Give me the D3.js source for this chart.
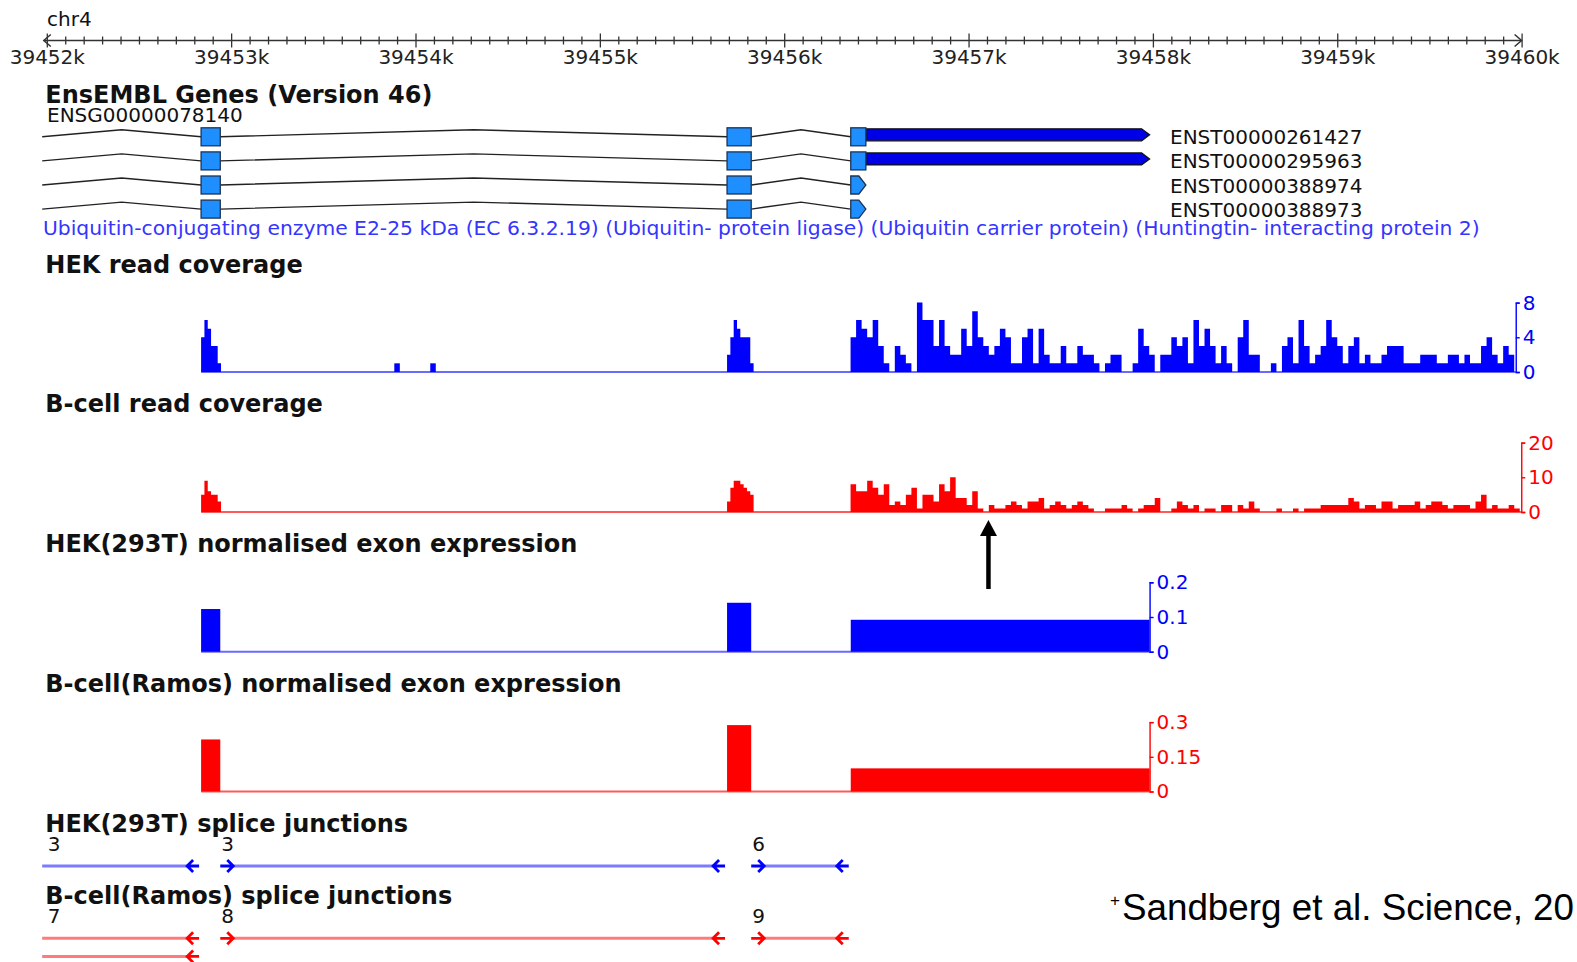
<!DOCTYPE html>
<html>
<head>
<meta charset="utf-8">
<script src="https://cdn.jsdelivr.net/npm/d3@7"></script>
<style>
  body { margin: 0; background: #fff; }
  svg { display: block; font-family: "DejaVu Sans", sans-serif; }
  .title { font-weight: bold; font-size: 24px; fill: #111; }
</style>
</head>
<body>
<svg id="chart" width="1577" height="962"></svg>
<script>
// ---- data ----
const chromName = 'chr4';
const region = [39452000, 39460000];
const majorTicks = d3.range(39452000, 39460001, 1000);
const minorTicks = d3.range(39452100, 39460000, 100).filter(d => d % 1000 !== 0);

const geneId = 'ENSG00000078140';
const geneDesc = 'Ubiquitin-conjugating enzyme E2-25 kDa (EC 6.3.2.19) (Ubiquitin- protein ligase) (Ubiquitin carrier protein) (Huntingtin- interacting protein 2)';
const transcriptIds = ['ENST00000261427', 'ENST00000295963', 'ENST00000388974', 'ENST00000388973'];
const upstreamExonEnd = 39451975;            // previous exon, just off the left edge
const exonStarts = [39452837, 39455690, 39456361];
const exonEnds = [39452941, 39455821, 39456443];
const transcriptEnds = [39457982, 39457982, 39456443, 39456443];

// read coverage, binned
const exonBin = 18;
const hekExon1Cov = [4, 6, 5, 3, 3, 1];
const hekExon2Cov = [2, 4, 6, 5, 4, 4, 4, 1];
const bcellExon1Cov = [5, 9, 6, 5, 5, 3];
const bcellExon2Cov = [3, 7, 9, 9, 8, 7, 6, 5];
const hekIntronReads = [39453885, 39454080];  // single reads, 30bp
const tailStart = 39456360;
const tailBin = 30;
const hekTailCov = [
  4, 6, 5, 4, 6, 3, 1, 0, 3, 2, 1, 0, 8, 6, 6, 3, 6, 3, 2, 2,
  5, 3, 7, 4, 3, 2, 3, 5, 4, 1, 1, 4, 5, 1, 5, 2, 1, 1, 3, 1,
  1, 3, 2, 2, 1, 0, 1, 2, 2, 0, 0, 1, 5, 3, 2, 0, 2, 2, 4, 3,
  4, 1, 6, 3, 5, 3, 1, 3, 1, 0, 4, 6, 2, 2, 0, 0, 1, 0, 3, 4,
  1, 6, 3, 1, 2, 3, 6, 4, 3, 1, 3, 4, 1, 2, 1, 1, 2, 3, 3, 3,
  1, 1, 1, 2, 2, 2, 1, 1, 2, 2, 1, 2, 1, 1, 3, 4, 2, 1, 3, 2
];
const bcellTailCov = [
  8, 6, 6, 9, 7, 5, 8, 2, 3, 2, 5, 7, 1, 5, 5, 3, 8, 6, 10, 4,
  4, 2, 6, 1, 0, 2, 1, 1, 2, 3, 2, 1, 3, 3, 4, 1, 2, 3, 2, 1,
  2, 3, 2, 1, 0, 0, 1, 1, 1, 2, 1, 0, 1, 2, 2, 4, 0, 0, 1, 3,
  2, 1, 2, 0, 1, 1, 0, 2, 2, 0, 2, 1, 3, 1, 0, 0, 0, 1, 0, 0,
  1, 0, 1, 1, 1, 2, 2, 2, 2, 2, 4, 3, 1, 2, 2, 1, 3, 3, 1, 2,
  2, 2, 3, 1, 2, 3, 3, 2, 1, 2, 2, 2, 1, 3, 5, 1, 2, 1, 1, 2, 1
];
const hekCovTicks = [0, 4, 8];
const bcellCovTicks = [0, 10, 20];

// normalised exon expression (exon 3 runs to the transcript end)
const exprStarts = [39452837, 39455690, 39456361];
const exprEnds = [39452941, 39455821, 39457982];
const hekExpr = [0.123, 0.141, 0.092];
const bcellExpr = [0.225, 0.287, 0.1];
const hekExprTicks = [0, 0.1, 0.2];
const bcellExprTicks = [0, 0.15, 0.3];

// splice junctions
const juncStarts = [39451975, 39452941, 39455821, 39451975];
const juncEnds = [39452837, 39455690, 39456361, 39452837];
const hekJuncCounts = [3, 3, 6];
const bcellJuncCounts = [7, 8, 9, null];
const arrowPos = 39457108;

// ---- drawing ----
const svg = d3.select('#chart');
const x = d3.scaleLinear().domain(region).range([46.8, 1521.6]);

// ruler
const rulerY = 40.5;
svg.append('text').attr('x', 47).attr('y', 26).attr('font-size', 20).attr('fill', '#111').text(chromName);
const ruler = svg.append('g').attr('transform', `translate(0,${rulerY})`);
ruler.append('g')
  .call(d3.axisBottom(x).tickValues(minorTicks).tickSize(4).tickFormat(''))
  .call(g => g.select('.domain').remove())
  .call(g => g.selectAll('.tick line').attr('y1', -4).attr('stroke', '#333').attr('stroke-width', 1.3));
ruler.append('g')
  .call(d3.axisBottom(x).tickValues(majorTicks).tickSize(7).tickFormat(d => (d / 1000) + 'k'))
  .call(g => g.select('.domain').remove())
  .call(g => g.selectAll('.tick line').attr('y1', -7).attr('stroke', '#333').attr('stroke-width', 1.3))
  .call(g => g.selectAll('.tick text').attr('y', 9).attr('font-size', 20).attr('font-family', 'DejaVu Sans').attr('fill', '#222'));
const [rx0, rx1] = x.range();
ruler.append('line').attr('x1', rx0 - 3).attr('x2', rx1).attr('stroke', '#333').attr('stroke-width', 1.5);
ruler.append('path').attr('d', `M${rx0 + 4},-6L${rx0 - 3},0L${rx0 + 4},6`).attr('fill', 'none').attr('stroke', '#333').attr('stroke-width', 1.5);
ruler.append('path').attr('d', `M${rx1 - 7},-6L${rx1},0L${rx1 - 7},6`).attr('fill', 'none').attr('stroke', '#333').attr('stroke-width', 1.5);

// titles
const titles = [
  ['EnsEMBL Genes (Version 46)', 102.5],
  ['HEK read coverage', 272.5],
  ['B-cell read coverage', 412],
  ['HEK(293T) normalised exon expression', 552],
  ['B-cell(Ramos) normalised exon expression', 692],
  ['HEK(293T) splice junctions', 831.5],
  ['B-cell(Ramos) splice junctions', 904]
];
svg.selectAll('text.title').data(titles).enter().append('text')
  .attr('class', 'title').attr('x', 45.3).attr('y', d => d[1]).text(d => d[0]);

// gene models
svg.append('text').attr('x', 47).attr('y', 121.5).attr('font-size', 20).attr('fill', '#111').text(geneId);
const row0 = 136.8, rowStep = 24.1;
transcriptIds.forEach((id, i) => {
  const cy = row0 + i * rowStep;
  const g = svg.append('g');
  const introns = [[upstreamExonEnd, exonStarts[0]], [exonEnds[0], exonStarts[1]], [exonEnds[1], exonStarts[2]]];
  g.selectAll('path.intron').data(introns).enter().append('path')
    .attr('d', d => `M${x(d[0])},${cy}L${x((d[0] + d[1]) / 2)},${cy - 7}L${x(d[1])},${cy}`)
    .attr('fill', 'none').attr('stroke', '#222').attr('stroke-width', 1.4);
  const end = transcriptEnds[i];
  if (end > exonEnds[2]) {
    // long 3' block with arrow point
    const x0 = x(exonEnds[2]), x1 = x(end);
    g.append('path')
      .attr('d', `M${x0},${cy - 8}L${x1 - 8},${cy - 8}L${x1},${cy - 2}L${x1 - 8},${cy + 4}L${x0},${cy + 4}Z`)
      .attr('fill', '#0000e6').attr('stroke', '#111').attr('stroke-width', 1.3);
  }
  const boxes = exonStarts.map((s, k) => [s, exonEnds[k]]);
  g.selectAll('rect.exon').data(end > exonEnds[2] ? boxes : boxes.slice(0, 2)).enter().append('rect')
    .attr('x', d => x(d[0])).attr('y', cy - 9)
    .attr('width', d => x(d[1]) - x(d[0])).attr('height', 18)
    .attr('fill', '#1f8fff').attr('stroke', '#1c3452').attr('stroke-width', 1.3);
  if (end <= exonEnds[2]) {
    const x0 = x(exonStarts[2]), x1 = x(end);
    g.append('path')
      .attr('d', `M${x0},${cy - 9}L${x1 - 7},${cy - 9}L${x1},${cy}L${x1 - 7},${cy + 9}L${x0},${cy + 9}Z`)
      .attr('fill', '#1f8fff').attr('stroke', '#1c3452').attr('stroke-width', 1.3);
  }
  g.append('text').attr('x', 1170).attr('y', cy + 7.5).attr('font-size', 20).attr('fill', '#111').text(id);
});
svg.append('text').attr('x', 43).attr('y', 234.5).attr('font-size', 20.3).attr('fill', '#3535ff').text(geneDesc);

// coverage tracks
function coverageBlocks(exon1, exon2, tail) {
  return [
    { start: exonStarts[0], bin: exonBin, values: exon1 },
    { start: exonStarts[1], bin: exonBin, values: exon2 },
    { start: tailStart, bin: tailBin, values: tail }
  ];
}
function coverageTrack(blocks, ticks, baseY, h, color, light) {
  const y = d3.scaleLinear().domain([0, d3.max(ticks)]).range([baseY, baseY - h]);
  const last = blocks[blocks.length - 1];
  const dataEnd = last.start + last.values.length * last.bin;
  const axisX = x(dataEnd) + 1.5;
  const g = svg.append('g');
  g.append('line').attr('x1', x(blocks[0].start)).attr('x2', axisX)
    .attr('y1', baseY).attr('y2', baseY).attr('stroke', light).attr('stroke-width', 2);
  const area = d3.area().curve(d3.curveStepAfter)
    .x(d => x(d.pos)).y0(y(0)).y1(d => y(d.v));
  blocks.forEach(b => {
    const pts = b.values.map((v, i) => ({ pos: b.start + i * b.bin, v }));
    pts.push({ pos: b.start + b.values.length * b.bin, v: 0 });
    g.append('path').datum(pts).attr('d', area).attr('fill', color);
  });
  drawAxis(axisX, y, ticks, color);
}
function drawAxis(ax, y, ticks, color) {
  svg.append('g').attr('transform', `translate(${ax},0)`)
    .call(d3.axisRight(y).tickValues(ticks).tickSize(4).tickPadding(3).tickFormat(d => String(d)))
    .call(g => g.selectAll('path,line').attr('stroke', color).attr('stroke-width', 1.4))
    .call(g => g.selectAll('text').attr('fill', color).attr('font-size', 20).attr('font-family', 'DejaVu Sans'));
}

const hekBlocks = coverageBlocks(hekExon1Cov, hekExon2Cov, hekTailCov)
  .concat(hekIntronReads.map(s => ({ start: s, bin: 30, values: [1] })));
// keep the tail block last so the axis sits at its end
hekBlocks.push(hekBlocks.splice(2, 1)[0]);
coverageTrack(hekBlocks, hekCovTicks, 372, 69.4, '#0000ff', '#6a6aff');
coverageTrack(coverageBlocks(bcellExon1Cov, bcellExon2Cov, bcellTailCov), bcellCovTicks, 512, 69.4, '#ff0000', '#ff5a5a');

// exon expression tracks
function exprTrack(values, ticks, baseY, h, color, light) {
  const y = d3.scaleLinear().domain([0, d3.max(ticks)]).range([baseY, baseY - h]);
  const g = svg.append('g');
  const xEnd = x(d3.max(exprEnds));
  g.append('line').attr('x1', x(exprStarts[0])).attr('x2', xEnd)
    .attr('y1', baseY).attr('y2', baseY).attr('stroke', light).attr('stroke-width', 2);
  g.selectAll('rect').data(values).enter().append('rect')
    .attr('x', (d, i) => x(exprStarts[i]))
    .attr('width', (d, i) => x(exprEnds[i]) - x(exprStarts[i]))
    .attr('y', d => y(d)).attr('height', d => baseY - y(d))
    .attr('fill', color);
  drawAxis(xEnd, y, ticks, color);
}
exprTrack(hekExpr, hekExprTicks, 651.7, 69.4, '#0000ff', '#6a6aff');
exprTrack(bcellExpr, bcellExprTicks, 791.5, 69.4, '#ff0000', '#ff5a5a');

// splice junctions
function junctionTrack(counts, lineY, light, dark) {
  const g = svg.append('g');
  counts.forEach((n, j) => {
    const row = j === 3 ? 1 : 0;
    const yy = lineY + row * 18.1;
    const a = x(juncStarts[j]), b = x(juncEnds[j]);
    const startVisible = juncStarts[j] >= region[0];
    g.append('line').attr('x1', startVisible ? a + 13 : a).attr('x2', b - 14)
      .attr('y1', yy).attr('y2', yy).attr('stroke', light).attr('stroke-width', 3);
    g.append('path')
      .attr('d', `M${b - 14},${yy}L${b - 2},${yy}M${b - 8},${yy - 6}L${b - 14},${yy}L${b - 8},${yy + 6}`)
      .attr('fill', 'none').attr('stroke', dark).attr('stroke-width', 2.8);
    if (startVisible) {
      g.append('path')
        .attr('d', `M${a},${yy}L${a + 13},${yy}M${a + 7},${yy - 6}L${a + 13},${yy}L${a + 7},${yy + 6}`)
        .attr('fill', 'none').attr('stroke', dark).attr('stroke-width', 2.8);
    }
    if (n != null) {
      g.append('text').attr('x', x(Math.max(juncStarts[j], region[0])) + 1).attr('y', yy - 15)
        .attr('font-size', 20).attr('fill', '#111').text(n);
    }
  });
}
junctionTrack(hekJuncCounts, 866, '#7b7bff', '#0000ff');
junctionTrack(bcellJuncCounts, 938.3, '#ff7b7b', '#ff0000');

// marker arrow
const ax = x(arrowPos);
svg.append('line').attr('x1', ax).attr('x2', ax).attr('y1', 589).attr('y2', 532)
  .attr('stroke', '#000').attr('stroke-width', 4.5);
svg.append('path').attr('d', `M${ax - 8.5},${536}L${ax},${520}L${ax + 8.5},${536}Z`).attr('fill', '#000');

// citation (cut at the slide edge in the source)
const cite = svg.append('text').attr('x', 1110).attr('y', 920)
  .attr('font-family', 'Liberation Sans, Arial, sans-serif').attr('font-size', 36.8).attr('fill', '#000');
cite.append('tspan').attr('font-size', 17).attr('dy', -14).text('+');
cite.append('tspan').attr('dy', 14).attr('dx', 2).text('Sandberg et al. Science, 20');
</script>
</body>
</html>
